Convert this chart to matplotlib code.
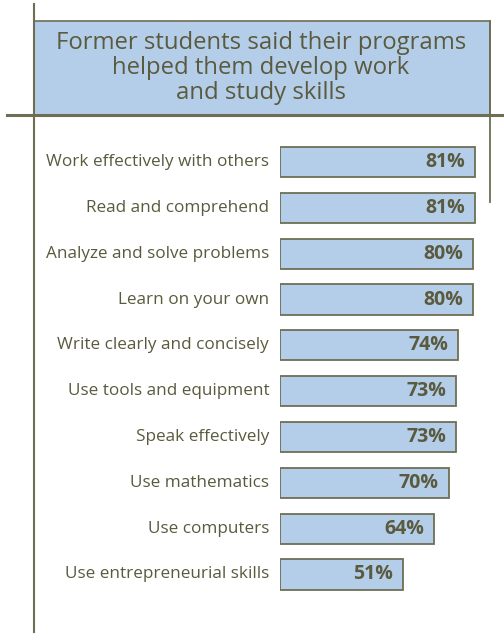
import matplotlib.pyplot as plt
from matplotlib.lines import Line2D
from matplotlib.patches import Rectangle

# skills and share of former students who said so
skills = ['Work effectively with others', 'Read and comprehend',
          'Analyze and solve problems', 'Learn on your own',
          'Write clearly and concisely', 'Use tools and equipment',
          'Speak effectively', 'Use mathematics', 'Use computers',
          'Use entrepreneurial skills']
percents = [81, 81, 80, 80, 74, 73, 73, 70, 64, 51]

titulo = 'Former students said their programs\nhelped them develop work\nand study skills'

azul = '#b4cde8'
borde = '#6e6e55'
texto = '#5a5a3e'

W, H = 504, 635
fig = plt.figure(figsize=(W / 100, H / 100), dpi=100)
plt.rcParams['font.family'] = ['Open Sans', 'DejaVu Sans']

def fx(px):
    return px / W

def fy(py):
    return 1 - py / H

# caja del titulo
fig.add_artist(Rectangle((fx(34), fy(115)), fx(490) - fx(34), fy(21) - fy(115),
                         transform=fig.transFigure, facecolor=azul,
                         edgecolor=borde, linewidth=1.2))
fig.text(fx(261), fy(68), titulo, ha='center', va='center', fontsize=17.2,
         color=texto, linespacing=1.06)

# lineas decorativas
fig.add_artist(Line2D([fx(34), fx(34)], [fy(4), fy(632)], color=borde, lw=1.5))
fig.add_artist(Line2D([fx(7), fx(504)], [fy(115), fy(115)], color=borde, lw=2.2))
fig.add_artist(Line2D([fx(490), fx(490)], [fy(21), fy(202)], color=borde, lw=1.3))

# grafico de barras
ax = fig.add_axes([fx(280), fy(597.4), 1 - fx(280), (597.4 - 139.1) / H])
y = list(range(len(skills)))
ax.barh(y, percents, height=0.66, color=azul, edgecolor=borde, linewidth=1.3)
for i, p in zip(y, percents):
    ax.text(p - 4.1, i, f'{p}%', ha='right', va='center', fontsize=14,
            fontweight='bold', color=texto)
    ax.text(-4.5, i, skills[i], ha='right', va='center', fontsize=12.3,
            color=texto, clip_on=False)

ax.set_xlim(0, (W - 280) / 2.41)
ax.set_ylim(len(skills) - 0.5, -0.5)
ax.axis('off')

fig.savefig('out.png', dpi=100)
